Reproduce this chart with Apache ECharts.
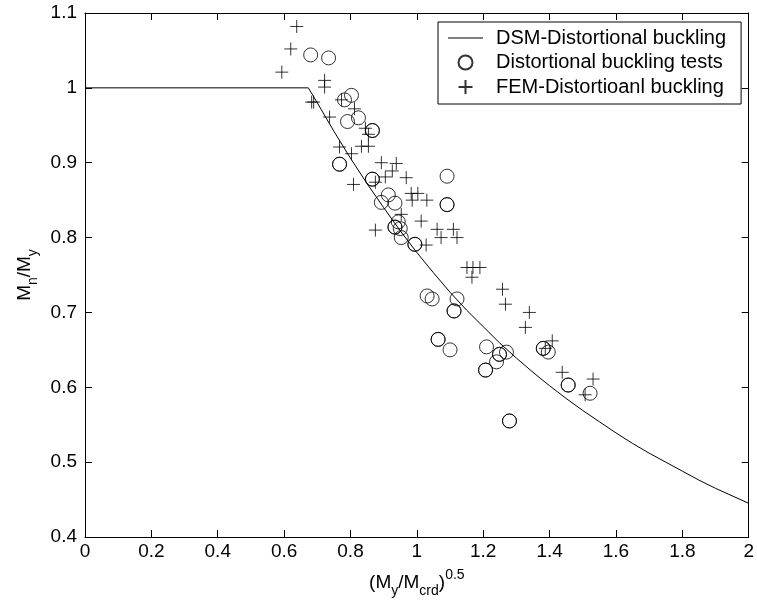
<!DOCTYPE html>
<html>
<head>
<meta charset="utf-8">
<script src="https://cdn.jsdelivr.net/npm/echarts@6/dist/echarts.min.js"></script>
<style>html,body{margin:0;padding:0;background:#fff;}#c{width:757px;height:607px;}</style>
</head>
<body>
<div id="c"></div>
<script>
// DSM curve
const dsmX = [0, 0.673, 0.7, 0.75, 0.8, 0.85, 0.9, 0.95, 1.0, 1.05, 1.1, 1.15, 1.2, 1.25, 1.3, 1.35, 1.4, 1.45, 1.5, 1.55, 1.6, 1.65, 1.7, 1.75, 1.8, 1.85, 1.9, 1.95, 2.0];
const dsmY = [1.0, 1.0, 0.980, 0.942, 0.906, 0.872, 0.840, 0.809, 0.780, 0.753, 0.727, 0.703, 0.681, 0.659, 0.639, 0.620, 0.602, 0.585, 0.569, 0.554, 0.539, 0.525, 0.512, 0.500, 0.488, 0.476, 0.465, 0.455, 0.445];

// Distortional buckling tests (circles)
const testX = [0.68, 0.734, 0.782, 0.803, 0.791, 0.824, 0.866, 0.866, 0.767, 0.767, 0.866, 0.866, 1.091, 1.091, 1.091, 0.893, 0.914, 0.934, 0.944, 0.934, 0.934, 0.95, 0.953, 0.994, 0.994, 1.031, 1.046, 1.121, 1.112, 1.112, 1.064, 1.064, 1.10, 1.21, 1.27, 1.249, 1.249, 1.24, 1.207, 1.207, 1.381, 1.381, 1.396, 1.456, 1.456, 1.522, 1.279, 1.279];
const testY = [1.044, 1.04, 0.984, 0.99, 0.955, 0.96, 0.943, 0.943, 0.898, 0.898, 0.878, 0.878, 0.882, 0.844, 0.844, 0.847, 0.857, 0.846, 0.821, 0.814, 0.814, 0.812, 0.80, 0.791, 0.791, 0.722, 0.718, 0.718, 0.702, 0.702, 0.664, 0.664, 0.65, 0.654, 0.647, 0.644, 0.644, 0.634, 0.623, 0.623, 0.652, 0.652, 0.647, 0.603, 0.603, 0.592, 0.555, 0.555];

// FEM-Distortioanl buckling (pluses)
const femX = [0.638, 0.62, 0.593, 0.722, 0.722, 0.683, 0.689, 0.773, 0.812, 0.737, 0.845, 0.854, 0.767, 0.833, 0.854, 0.803, 0.893, 0.938, 0.926, 0.968, 0.905, 0.809, 0.875, 0.983, 1.003, 0.986, 1.03, 0.953, 1.013, 1.061, 1.11, 1.073, 1.121, 1.028, 0.875, 1.151, 1.169, 1.19, 1.166, 1.258, 1.267, 1.339, 1.327, 1.408, 1.387, 1.438, 1.531, 1.507];
const femY = [1.082, 1.052, 1.021, 1.01, 1.001, 0.981, 0.981, 0.984, 0.972, 0.961, 0.946, 0.938, 0.921, 0.922, 0.922, 0.912, 0.9, 0.899, 0.889, 0.88, 0.881, 0.871, 0.874, 0.859, 0.859, 0.85, 0.85, 0.831, 0.822, 0.811, 0.811, 0.8, 0.8, 0.79, 0.81, 0.76, 0.76, 0.76, 0.747, 0.731, 0.711, 0.70, 0.68, 0.662, 0.652, 0.62, 0.611, 0.59];

// Ticks
const xMin = 0, xMax = 2, xStep = 0.2;
const yMin = 0.4, yMax = 1.1, yStep = 0.1;
const seriesNames = ['DSM-Distortional buckling', 'Distortional buckling tests', 'FEM-Distortioanl buckling'];

const zip = (a, b) => a.map((v, i) => [v, b[i]]);
const FONT = 'Liberation Sans, Arial, sans-serif';
const plusPath = 'path://M0,6 L12,6 M6,0 L6,12';

const chart = echarts.init(document.getElementById('c'), null, {renderer: 'canvas'});
const axisCommon = {
  axisLine: {show: true, onZero: false, lineStyle: {color: '#000', width: 1}},
  axisTick: {show: true, inside: true, length: 7, lineStyle: {color: '#000', width: 1}},
  splitLine: {show: false},
};
chart.setOption({
  animation: false,
  backgroundColor: '#fff',
  textStyle: {fontFamily: FONT},
  grid: {left: 85, right: 4, top: 13, bottom: 70, containLabel: false},
  xAxis: [
    Object.assign({
      type: 'value', min: xMin, max: xMax, interval: xStep, position: 'bottom',
      axisLabel: {color: '#000', fontSize: 19, fontFamily: FONT, margin: 5},
      name: '{a|(M}{sub|y}{a|/M}{sub|crd}{a|)}{sup|0.5}',
      nameLocation: 'middle', nameGap: 31,
      nameTextStyle: {
        rich: {
          a: {fontSize: 19, fontFamily: FONT, color: '#000', lineHeight: 30, verticalAlign: 'middle'},
          sub: {fontSize: 14, fontFamily: FONT, color: '#000', lineHeight: 30, verticalAlign: 'bottom'},
          sup: {fontSize: 14, fontFamily: FONT, color: '#000', lineHeight: 30, verticalAlign: 'top'}
        }
      }
    }, axisCommon),
    Object.assign({
      type: 'value', min: xMin, max: xMax, interval: xStep, position: 'top',
      axisLabel: {show: false}
    }, axisCommon)
  ],
  yAxis: [
    Object.assign({
      type: 'value', min: yMin, max: yMax, interval: yStep, position: 'left',
      axisLabel: {color: '#000', fontSize: 19, fontFamily: FONT, margin: 8},
      name: '{a|M}{sub|n}{a|/M}{sub|y}',
      nameLocation: 'middle', nameGap: 45, nameRotate: 90,
      nameTextStyle: {
        rich: {
          a: {fontSize: 19, fontFamily: FONT, color: '#000', lineHeight: 30, verticalAlign: 'middle'},
          sub: {fontSize: 14, fontFamily: FONT, color: '#000', lineHeight: 30, verticalAlign: 'bottom'}
        }
      }
    }, axisCommon),
    Object.assign({
      type: 'value', min: yMin, max: yMax, interval: yStep, position: 'right',
      axisLabel: {show: false}
    }, axisCommon)
  ],
  legend: {
    orient: 'vertical', left: 438, top: 22,
    padding: [5, 15, 6, 10], itemGap: 2.5,
    itemWidth: 35, itemHeight: 14,
    borderColor: '#000', borderWidth: 1, backgroundColor: '#fff',
    selectedMode: false,
    textStyle: {fontSize: 20, fontFamily: FONT, color: '#000', lineHeight: 22, padding: [0, 0, 0, 8]},
    data: [
      {name: seriesNames[0], icon: 'path://M0,0 H40 V1 H0 Z', itemStyle: {color: '#000'}},
      {name: seriesNames[1]},
      {name: seriesNames[2]}
    ]
  },
  series: [
    {
      name: seriesNames[0], type: 'line', data: zip(dsmX, dsmY),
      symbol: 'none', silent: true,
      lineStyle: {color: '#000', width: 1},
      itemStyle: {color: '#000'}
    },
    {
      name: seriesNames[1], type: 'scatter', data: zip(testX, testY),
      symbol: 'circle', symbolSize: 14, silent: true,
      itemStyle: {color: 'rgba(255,255,255,0)', borderColor: '#000', borderWidth: 1}
    },
    {
      name: seriesNames[2], type: 'scatter', data: zip(femX, femY),
      symbol: plusPath, symbolSize: 13, silent: true,
      itemStyle: {color: 'rgba(255,255,255,0)', borderColor: '#000', borderWidth: 1}
    }
  ]
});
</script>
</body>
</html>
